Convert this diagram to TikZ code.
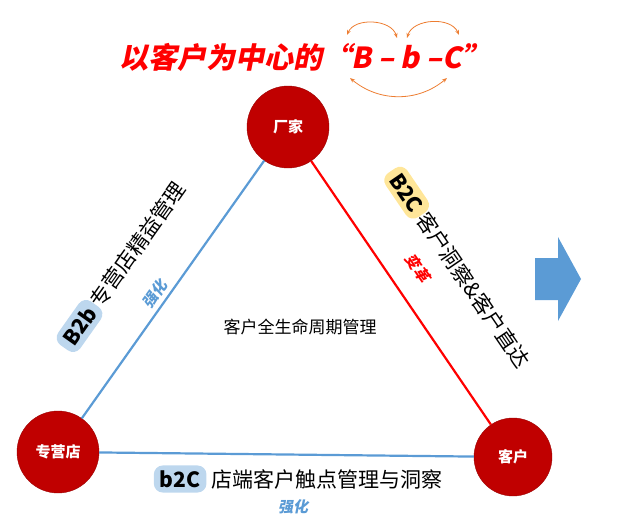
\documentclass[tikz,border=0pt]{standalone}
\usepackage{fontspec}
\setmainfont{Noto Sans CJK SC}
\newfontfamily\slfont{Noto Sans CJK SC}[UprightFeatures={FakeSlant=0.2}, BoldFeatures={FakeSlant=0.2}]
\usetikzlibrary{arrows.meta}
\definecolor{darkred}{RGB}{192,0,0}
\definecolor{lineblue}{RGB}{91,155,213}
\definecolor{tagblue}{RGB}{189,215,238}
\definecolor{tagyellow}{RGB}{255,230,153}
\definecolor{arcorange}{RGB}{237,125,49}
\tikzset{
    party/.style = {circle, fill=darkred, draw=darkred!80!black, minimum size=82pt, text=white, font=\fontsize{15}{15}\selectfont\bfseries},
    tag/.style = {rounded corners=9pt, inner xsep=6pt, inner ysep=5pt, font=\fontsize{21}{21}\selectfont\bfseries},
    edgetext/.style = {font=\fontsize{21}{21}\selectfont, inner sep=0pt},
    note/.style = {font=\fontsize{15}{15}\slfont\bfseries, inner sep=0pt},
    swap/.style = {arcorange, thick, {Stealth[length=5pt]}-{Stealth[length=5pt]}}
}
\begin{document}
\begin{tikzpicture}[x=1pt, y=-1pt]
    \useasboundingbox (0,0) rectangle (640,530);
    % title
    \node (title) [red, font=\fontsize{29}{29}\slfont\bfseries] at (305,57) {以客户为中心的“B – b –C”};
    \coordinate (topB) at (347,35);
    \coordinate (topbl) at (397,38);
    \coordinate (topbr) at (407,38);
    \coordinate (topC) at (459,35);
    \coordinate (lowB) at (350,78);
    \coordinate (lowC) at (447,78);
    \draw [swap] (topB) to[bend left=70] (topbl);
    \draw [swap] (topbr) to[bend left=70] (topC);
    \draw [swap] (lowB) to[bend right=40] (lowC);
    % parties
    \node (maker) [party] at (288,127) {厂家};
    \node (store) [party] at (58,452) {专营店};
    \node (client) [party, minimum size=78pt] at (513,457) {客户};
    \draw [lineblue, line width=2.2pt] (maker) -- (store);
    \draw [red, line width=2.2pt] (maker) -- (client);
    \draw [lineblue, line width=2.2pt] (store) -- (client);
    \node (center) [font=\fontsize{17}{17}\selectfont] at (300,327) {客户全生命周期管理};
    % left edge
    \node (lefttext) [edgetext, rotate=54.7] at (122,266) {\tikz[baseline=(t.base)]\node (t)[tag, fill=tagblue]{B2b};专营店精益管理};
    \node (leftnote) [note, lineblue, rotate=54.7] at (155,294) {强化};
    % right edge
    \node (righttext) [edgetext, rotate=-55.7] at (458,268) {\tikz[baseline=(t.base)]\node (t)[tag, fill=tagyellow]{B2C};客户洞察\&客户直达};
    \node (rightnote) [note, red, rotate=-55.7] at (418,268) {变革};
    % bottom edge
    \node (bottomtext) [edgetext] at (298,479) {\tikz[baseline=(t.base)]\node (t)[tag, fill=tagblue]{b2C}; 店端客户触点管理与洞察};
    \node (bottomnote) [note, lineblue] at (293,507) {强化};
    % arrow
    \fill [lineblue] (535,258) -- (558,258) -- (558,237) -- (581,279) -- (558,321) -- (558,300) -- (535,300) -- cycle;
\end{tikzpicture}
\end{document}
